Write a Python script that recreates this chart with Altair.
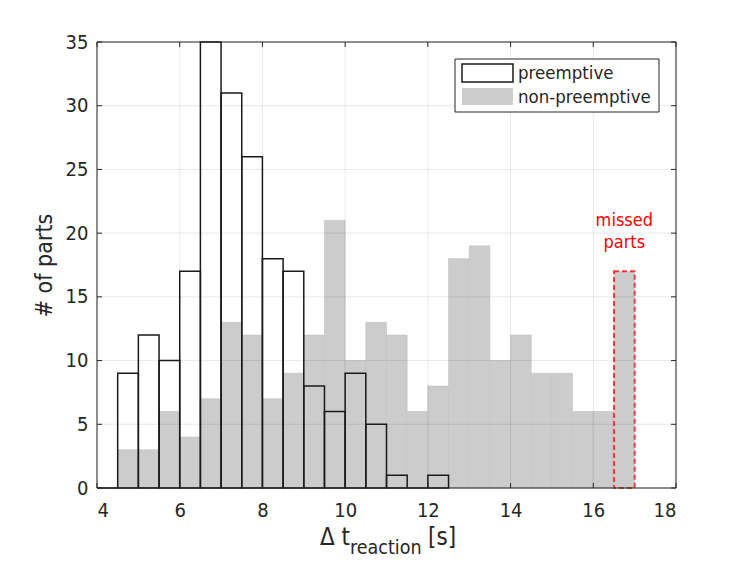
import altair as alt
import pandas as pd

# ---- data ----
bin_width = 0.5
pre_bin_starts = [4.0, 4.5, 5.0, 5.5, 6.0, 6.5, 7.0, 7.5, 8.0, 8.5, 9.0, 9.5,
                  10.0, 10.5, 11.0, 11.5, 12.0]
pre_counts = [0, 9, 12, 10, 17, 35, 31, 26, 18, 17, 8, 6, 9, 5, 1, 0, 1]

non_bin_starts = [4.5, 5.0, 5.5, 6.0, 6.5, 7.0, 7.5, 8.0, 8.5, 9.0, 9.5, 10.0,
                  10.5, 11.0, 11.5, 12.0, 12.5, 13.0, 13.5, 14.0, 14.5, 15.0,
                  15.5, 16.0, 16.5]
non_counts = [3, 3, 6, 4, 7, 13, 12, 7, 9, 12, 21, 10, 13, 12, 6, 8, 18, 19,
              10, 12, 9, 9, 6, 6, 17]

missed_start = [16.5]
missed_count = [17]
annotation_lines = ["missed", "parts"]

x_ticks = [4, 6, 8, 10, 12, 14, 16, 18]
y_ticks = [0, 5, 10, 15, 20, 25, 30, 35]
legend_labels = ["preemptive", "non-preemptive"]

FONT = "DejaVu Sans Condensed, DejaVu Sans"
INK = "#262626"
W, H = 579, 446

pre_df = pd.DataFrame({"start": pre_bin_starts, "count": pre_counts})
pre_df["end"] = pre_df["start"] + bin_width
non_df = pd.DataFrame({"start": non_bin_starts, "count": non_counts})
non_df["end"] = non_df["start"] + bin_width
miss_df = pd.DataFrame({"start": missed_start, "count": missed_count})
miss_df["end"] = miss_df["start"] + bin_width
miss_df["mid"] = miss_df["start"] + bin_width / 2
xt_df = pd.DataFrame({"v": x_ticks})
yt_df = pd.DataFrame({"v": y_ticks})

xscale = alt.Scale(domain=[4, 18], nice=False, zero=False)
yscale = alt.Scale(domain=[0, 35], nice=False)

x_axis = alt.Axis(values=x_ticks, grid=False, ticks=False, tickSize=0, domain=False,
                  labelFont=FONT, labelFontSize=20, labelColor=INK, labelPadding=12,
                  title=None)
y_axis = alt.Axis(values=y_ticks, grid=False, ticks=False, tickSize=0, domain=False,
                  labelFont=FONT, labelFontSize=20, labelColor=INK, labelPadding=9,
                  title="# of parts", titleFont=FONT, titleFontSize=23,
                  titleFontWeight="normal", titleColor=INK, titlePadding=9)

gray = alt.Chart(non_df).mark_rect(fill="#cccccc", stroke="#c2c2c2", strokeWidth=0.6).encode(
    x=alt.X("start:Q", scale=xscale, axis=x_axis),
    x2="end:Q",
    y=alt.Y("count:Q", scale=yscale, axis=y_axis),
    y2=alt.datum(0),
)

pre = alt.Chart(pre_df).mark_rect(fillOpacity=0, stroke="#1a1a1a", strokeWidth=1.5).encode(
    x=alt.X("start:Q", scale=xscale), x2="end:Q",
    y=alt.Y("count:Q", scale=yscale), y2=alt.datum(0),
)

vgrid = alt.Chart(xt_df).mark_rule(color=INK, opacity=0.1, strokeWidth=1).encode(
    x=alt.X("v:Q", scale=xscale), y=alt.value(0), y2=alt.value(H))
hgrid = alt.Chart(yt_df).mark_rule(color=INK, opacity=0.1, strokeWidth=1).encode(
    y=alt.Y("v:Q", scale=yscale), x=alt.value(0), x2=alt.value(W))

missed = alt.Chart(miss_df).mark_rect(fillOpacity=0, stroke="#ff2a2a", strokeOpacity=0.9,
                                      strokeWidth=2, strokeDash=[5, 3]).encode(
    x=alt.X("start:Q", scale=xscale), x2="end:Q",
    y=alt.Y("count:Q", scale=yscale), y2=alt.datum(0),
)
ann1 = alt.Chart(miss_df).mark_text(text=annotation_lines[0], font=FONT, fontSize=18,
                                    color="#ff0000", align="center", baseline="alphabetic").encode(
    x=alt.X("mid:Q", scale=xscale), y=alt.value(184))
ann2 = alt.Chart(miss_df).mark_text(text=annotation_lines[1], font=FONT, fontSize=18,
                                    color="#ff0000", align="center", baseline="alphabetic").encode(
    x=alt.X("mid:Q", scale=xscale), y=alt.value(206))

# inward ticks on all four sides
tb = alt.Chart(xt_df).mark_rule(color=INK, strokeWidth=1).encode(
    x=alt.X("v:Q", scale=xscale), y=alt.value(H), y2=alt.value(H - 5))
tt = alt.Chart(xt_df).mark_rule(color=INK, strokeWidth=1).encode(
    x=alt.X("v:Q", scale=xscale), y=alt.value(0), y2=alt.value(5))
tl = alt.Chart(yt_df).mark_rule(color=INK, strokeWidth=1).encode(
    y=alt.Y("v:Q", scale=yscale), x=alt.value(0), x2=alt.value(5))
tr = alt.Chart(yt_df).mark_rule(color=INK, strokeWidth=1).encode(
    y=alt.Y("v:Q", scale=yscale), x=alt.value(W), x2=alt.value(W - 5))

frame = alt.Chart(xt_df.head(1)).mark_rect(fillOpacity=0, stroke=INK, strokeWidth=1).encode(
    x=alt.value(0), x2=alt.value(W), y=alt.value(0), y2=alt.value(H))

# legend
leg_df = pd.DataFrame({"label": legend_labels})
leg_box = alt.Chart(leg_df.head(1)).mark_rect(fill="white", stroke=INK, strokeWidth=1).encode(
    x=alt.value(358), x2=alt.value(562), y=alt.value(17), y2=alt.value(70))
leg_sym1 = alt.Chart(leg_df.head(1)).mark_rect(fillOpacity=0, stroke="#1a1a1a", strokeWidth=1.5).encode(
    x=alt.value(365), x2=alt.value(416), y=alt.value(22), y2=alt.value(40))
leg_sym2 = alt.Chart(leg_df.head(1)).mark_rect(fill="#cccccc").encode(
    x=alt.value(365), x2=alt.value(416), y=alt.value(46), y2=alt.value(63))
leg_t1 = alt.Chart(leg_df.head(1)).mark_text(text=legend_labels[0], font=FONT, fontSize=18.5,
                                             color=INK, align="left", baseline="alphabetic").encode(
    x=alt.value(421), y=alt.value(37))
leg_t2 = alt.Chart(leg_df.head(1)).mark_text(text=legend_labels[1], font=FONT, fontSize=18.5,
                                             color=INK, align="left", baseline="alphabetic").encode(
    x=alt.value(421), y=alt.value(61))

# x title:  Δ t_reaction [s]
xt1 = alt.Chart(leg_df.head(1)).mark_text(text="Δ t", font=FONT, fontSize=24, color=INK,
                                          align="right", baseline="alphabetic").encode(
    x=alt.value(253), y=alt.value(503))
xt2 = alt.Chart(leg_df.head(1)).mark_text(text="reaction", font=FONT, fontSize=19.5, color=INK,
                                          align="left", baseline="alphabetic").encode(
    x=alt.value(253), y=alt.value(512))
xt3 = alt.Chart(leg_df.head(1)).mark_text(text="[s]", font=FONT, fontSize=24, color=INK,
                                          align="left", baseline="alphabetic").encode(
    x=alt.value(331), y=alt.value(503))

chart = alt.layer(
    gray, pre, vgrid, hgrid, missed, ann1, ann2, tb, tt, tl, tr, frame,
    leg_box, leg_sym1, leg_sym2, leg_t1, leg_t2, xt1, xt2, xt3,
).properties(
    width=W, height=H,
    autosize=alt.AutoSizeParams(type="none"),
    padding={"left": 89, "top": 34, "right": 63, "bottom": 73},
    background="white",
).configure_view(stroke=None)

chart.save("out.html", embed_options={"renderer": "svg", "actions": False})
